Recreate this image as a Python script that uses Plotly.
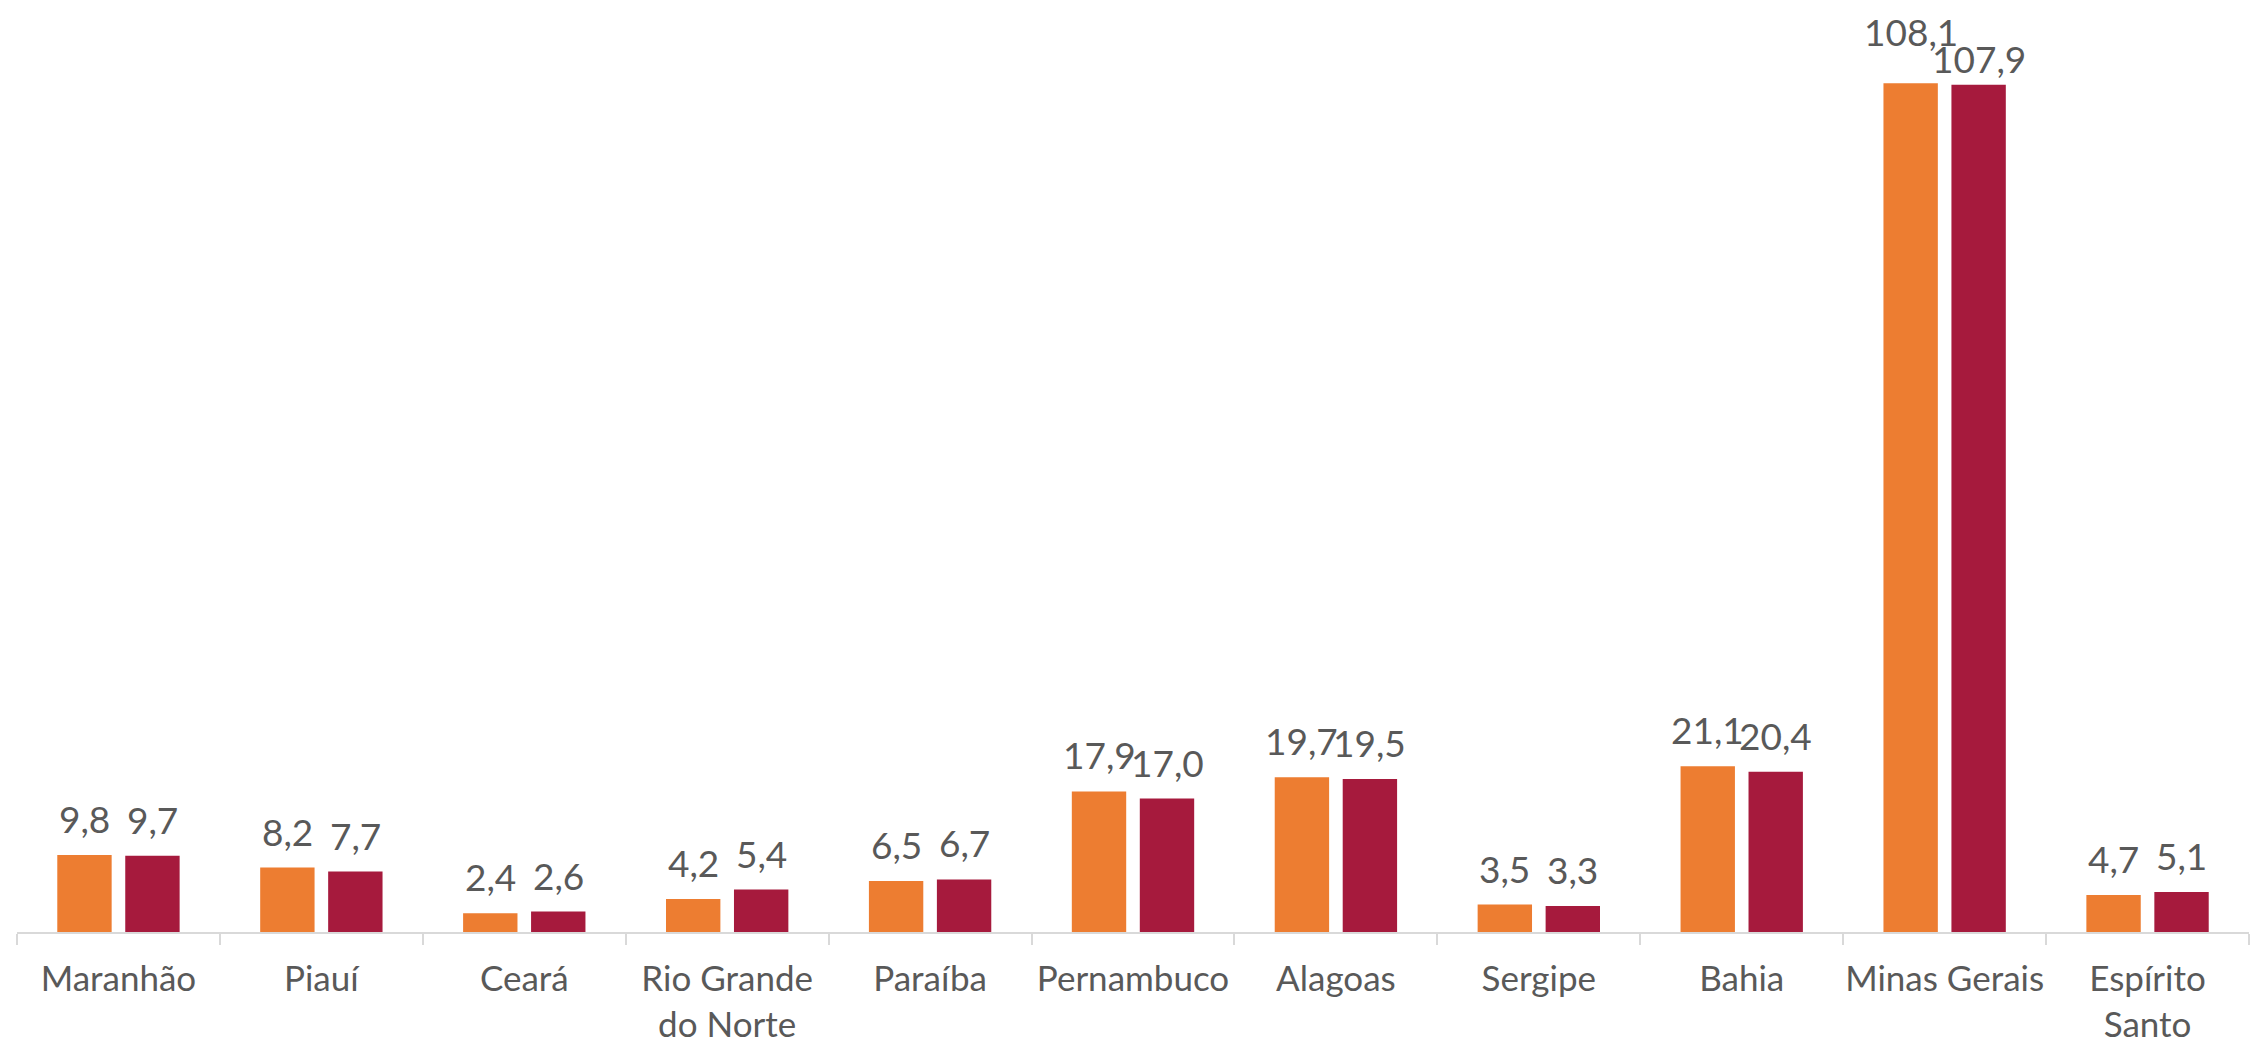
import plotly.graph_objects as go

categories = ["Maranhão", "Piauí", "Ceará", "Rio Grande<br>do Norte", "Paraíba",
              "Pernambuco", "Alagoas", "Sergipe", "Bahia", "Minas Gerais", "Espírito<br>Santo"]
series_a = [9.8, 8.2, 2.4, 4.2, 6.5, 17.9, 19.7, 3.5, 21.1, 108.1, 4.7]
series_b = [9.7, 7.7, 2.6, 5.4, 6.7, 17.0, 19.5, 3.3, 20.4, 107.9, 5.1]

FONT = "Lato"
TXT = "#595959"
COLORS = ["#ED7D31", "#A61A3D"]
XSHIFTS = [-34, 34]
# label lift above bar (px); Minas Gerais labels staggered like the original
DEFAULT_LIFT = 13
LIFT_OVERRIDE = {(0, "Minas Gerais"): 28, (1, "Minas Gerais"): 3}

fig = go.Figure()
for s, (vals, col) in enumerate([(series_a, COLORS[0]), (series_b, COLORS[1])]):
    fig.add_trace(go.Bar(
        x=categories, y=vals, marker=dict(color=col, line=dict(width=0)),
        hoverinfo="x+y",
    ))
    for cat, v in zip(categories, vals):
        fig.add_annotation(
            x=cat, y=v, xref="x", yref="y", xanchor="center", yanchor="bottom",
            xshift=XSHIFTS[s], yshift=LIFT_OVERRIDE.get((s, cat), DEFAULT_LIFT),
            text=f"{v:.1f}".replace(".", ","), showarrow=False, borderpad=0,
            font=dict(family=FONT, size=37, color=TXT),
        )

fig.update_layout(
    width=2243, height=1033, barmode="group", bargap=0.33, bargroupgap=0.2,
    separators=", ", showlegend=False,
    paper_bgcolor="white", plot_bgcolor="white",
    margin=dict(l=9, r=2, t=7, b=109, autoexpand=False),
    font=dict(family=FONT, color=TXT),
    xaxis2=dict(overlaying="x", matches="x", type="category",
                categoryorder="array", categoryarray=categories,
                ticks="inside", tickson="boundaries", ticklen=10,
                tickcolor="#D9D9D9", tickwidth=2, showticklabels=False,
                showline=False, showgrid=False, side="bottom"),
)
fig.update_layout(xaxis=dict(
    showline=True, linecolor="#D9D9D9", linewidth=2, automargin=False,
    ticks="outside", tickson="boundaries", ticklen=11, tickcolor="#D9D9D9", tickwidth=2,
    ticklabelstandoff=15, tickangle=0,
    tickfont=dict(family=FONT, size=35, color=TXT), showgrid=False,
))
fig.update_yaxes(range=[0, 116.8], visible=False, showgrid=False)

fig.write_html("out.html")
